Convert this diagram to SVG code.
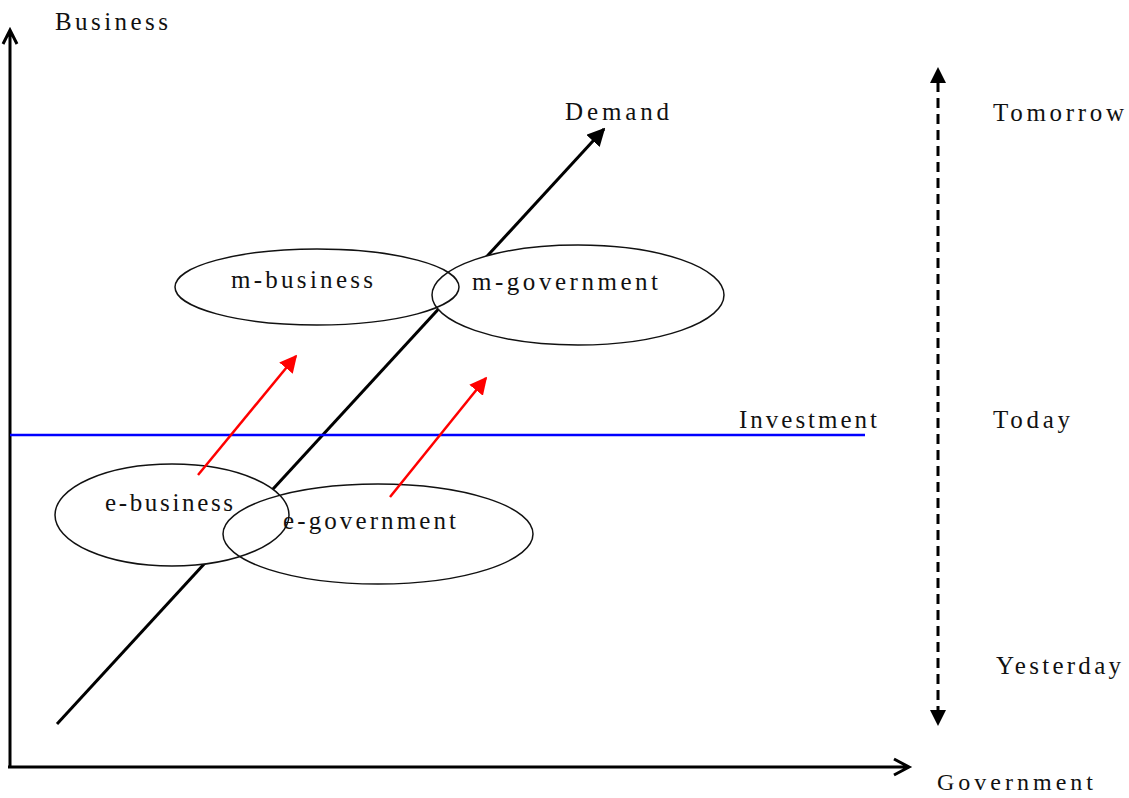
<svg xmlns="http://www.w3.org/2000/svg" width="1129" height="798" viewBox="0 0 1129 798">
<style>
text{font-family:"Liberation Serif","Times New Roman",serif;font-size:25px;fill:#111}
.ell{fill:none;stroke:#111;stroke-width:1.5}
.ellfill{fill:#fff;stroke:none}
.axis{stroke:#000;stroke-width:3;fill:none}
</style>
<defs>
<marker id="blk" viewBox="0 0 10 10" refX="9" refY="5" markerWidth="6" markerHeight="6" markerUnits="strokeWidth" orient="auto"><path d="M0,0L10,5L0,10z" fill="#000"/></marker>
<marker id="red" viewBox="0 0 10 10" refX="9" refY="5" markerWidth="7" markerHeight="7" markerUnits="strokeWidth" orient="auto"><path d="M0,0L10,5L0,10z" fill="#f00"/></marker>
</defs>
<rect width="1129" height="798" fill="#fff"/>
<g id="connectors">
<path class="axis" d="M10,767V30M3,44L10,30L17,44"/>
<path class="axis" d="M8,767H908M894,759L909,767L894,775"/>
<line x1="57" y1="724" x2="604" y2="129" stroke="#000" stroke-width="3" marker-end="url(#blk)"/>
<line x1="938" y1="82" x2="938" y2="712" stroke="#000" stroke-width="3" stroke-dasharray="10,6"/>
<path d="M938,67L930,83H946z" fill="#000"/>
<path d="M938,726L930,710H946z" fill="#000"/>
<line x1="10" y1="435" x2="865" y2="435" stroke="#0000ff" stroke-width="2.5"/>
</g>
<g id="fills">
<ellipse class="ellfill" cx="317" cy="287" rx="142" ry="38"/>
<ellipse class="ellfill" cx="578" cy="295" rx="146" ry="50"/>
<ellipse class="ellfill" cx="172" cy="515" rx="117" ry="51"/>
<ellipse class="ellfill" cx="378" cy="534" rx="155" ry="50"/>
</g>
<g id="m-business"><ellipse class="ell" cx="317" cy="287" rx="142" ry="38"/><text x="231" y="288" textLength="142" lengthAdjust="spacing">m-business</text></g>
<g id="m-government"><ellipse class="ell" cx="578" cy="295" rx="146" ry="50"/><text x="472" y="290" textLength="186" lengthAdjust="spacing">m-government</text></g>
<g id="e-business"><ellipse class="ell" cx="172" cy="515" rx="117" ry="51"/><text x="105" y="511" textLength="128" lengthAdjust="spacing">e-business</text></g>
<g id="e-government"><ellipse class="ell" cx="378" cy="534" rx="155" ry="50"/><text x="283" y="529" textLength="173" lengthAdjust="spacing">e-government</text></g>
<g id="red-arrows">
<line x1="198" y1="475" x2="296" y2="356" stroke="#f00" stroke-width="2.5" marker-end="url(#red)"/>
<line x1="390" y1="497" x2="486" y2="378" stroke="#f00" stroke-width="2.5" marker-end="url(#red)"/>
</g>
<g id="labels">
<text x="55" y="30" textLength="113" lengthAdjust="spacing">Business</text>
<text x="565" y="120" textLength="104" lengthAdjust="spacing">Demand</text>
<text x="993" y="121" textLength="131" lengthAdjust="spacing">Tomorrow</text>
<text x="739" y="428" textLength="138" lengthAdjust="spacing">Investment</text>
<text x="993" y="428" textLength="77" lengthAdjust="spacing">Today</text>
<text x="996" y="674" textLength="125" lengthAdjust="spacing">Yesterday</text>
<text x="937" y="790" textLength="156" lengthAdjust="spacing" style="font-size:24px">Government</text>
</g>
</svg>
